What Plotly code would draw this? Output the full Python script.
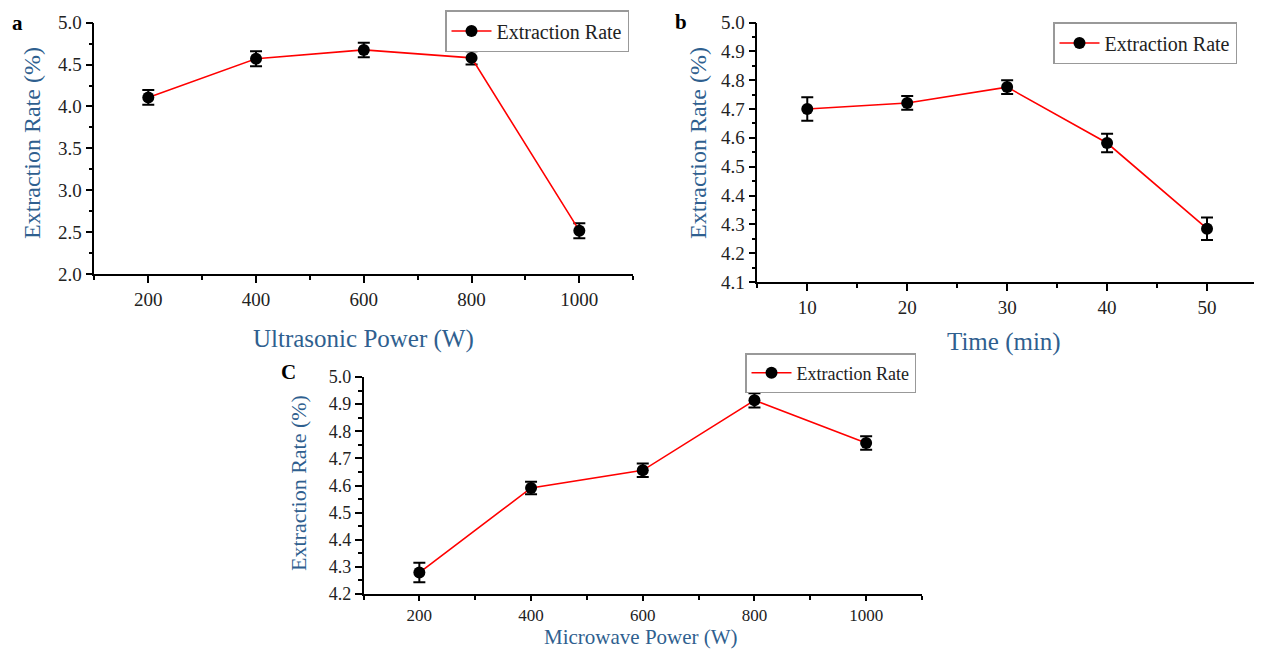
import plotly.graph_objects as go

# Panel a: ultrasonic power
power_a = [200, 400, 600, 800, 1000]
rate_a = [4.108, 4.57, 4.675, 4.58, 2.517]
err_a = [0.088, 0.09, 0.087, 0.08, 0.09]

# Panel b: time
time_b = [10, 20, 30, 40, 50]
rate_b = [4.70, 4.721, 4.776, 4.582, 4.285]
err_b = [0.041, 0.024, 0.024, 0.032, 0.039]

# Panel c: microwave power
power_c = [200, 400, 600, 800, 1000]
rate_c = [4.279, 4.591, 4.656, 4.914, 4.757]
err_c = [0.036, 0.023, 0.025, 0.026, 0.025]

series_name = "Extraction Rate"
ytitle = "Extraction Rate (%)"
xtitle_a = "Ultrasonic Power (W)"
xtitle_b = "Time (min)"
xtitle_c = "Microwave Power (W)"

FONT = "Liberation Serif"
TITLE_COLOR = "#2F5F8F"

fig = go.Figure()

def add(x, y, e, xa, ya, leg):
    fig.add_trace(go.Scatter(
        x=x, y=y, name=series_name, mode="lines+markers",
        line=dict(color="#FF0000", width=1.6),
        marker=dict(color="black", size=12),
        error_y=dict(type="data", array=e, color="black", thickness=2, width=6),
        xaxis=xa, yaxis=ya, legend=leg, showlegend=True,
    ))

add(power_a, rate_a, err_a, "x", "y", "legend")
add(time_b, rate_b, err_b, "x2", "y2", "legend2")
add(power_c, rate_c, err_c, "x3", "y3", "legend3")

# page body has an 8px margin: the figure is drawn 8px in from the window edge
OFF = 8
W, H = 1262 - 2 * OFF, 658 - 2 * OFF
def px(X):
    return min(1.0, max(0.0, (X - OFF) / W))
def py(Y):
    return min(1.0, max(0.0, 1 - (Y - OFF) / H))
def dx(a, b):
    return [px(a), px(b)]
def dy(top, bottom):
    return [py(bottom), py(top)]

def axis_common(fs, tl):
    return dict(
        showline=True, linecolor="black", linewidth=1.5, mirror=False,
        ticks="outside", ticklen=tl, tickwidth=1.5, tickcolor="black",
        showgrid=False, zeroline=False, automargin=False,
        tickfont=dict(family=FONT, size=fs, color="#222"),
    )

def xax(domain, rng, dtick, tick0, minor, anchor, fs, tl=7):
    d = axis_common(fs, tl)
    d.update(domain=domain, range=rng, dtick=dtick, tick0=tick0, anchor=anchor,
             minor=dict(dtick=minor, tick0=tick0, ticks="outside", ticklen=4, tickwidth=1.5, tickcolor="black"))
    return d

def yax(domain, rng, dtick, minor, anchor, fs, tl=7):
    d = axis_common(fs, tl)
    d.update(domain=domain, range=rng, dtick=dtick, tick0=rng[0], anchor=anchor, tickformat=".1f",
             minor=dict(dtick=minor, tick0=rng[0], ticks="outside", ticklen=4, tickwidth=1.5, tickcolor="black"))
    return d

def legend_at(right, top, fs):
    return dict(x=px(right), y=py(top), xanchor="right", yanchor="top",
                bordercolor="#999", borderwidth=1.5, bgcolor="white",
                font=dict(family=FONT, size=fs, color="#222"), itemwidth=40,
                tracegroupgap=0)

fig.update_layout(
    width=W, height=H, margin=dict(l=0, r=0, t=0, b=0, autoexpand=False),
    paper_bgcolor="white", plot_bgcolor="white",
    xaxis=xax(dx(94.4, 633.2), [100, 1100], 200, 200, 100, "y", 19),
    yaxis=yax(dy(22.7, 274), [2.0, 5.0], 0.5, 0.25, "x", 19),
    # panel b axis reaches the right edge of the visible figure
    xaxis2=xax(dx(757.3, 1254), [5, 54.7], 10, 10, 5, "y2", 19),
    yaxis2=yax(dy(22.5, 282), [4.1, 5.0], 0.1, 0.05, "x2", 19),
    xaxis3=xax(dx(363.5, 922), [100, 1100], 200, 200, 100, "y3", 17, tl=5),
    yaxis3=yax(dy(377, 594), [4.2, 5.0], 0.1, 0.05, "x3", 18),
    legend=legend_at(629, 10, 20),
    legend2=legend_at(1237, 22, 20),
    legend3=legend_at(916, 353, 18),
    showlegend=True,
)

def label(text, X, Y, size, color, angle=0, bold=False):
    fig.add_annotation(text=("<b>%s</b>" % text) if bold else text,
                       x=px(X), y=py(Y), xref="paper", yref="paper",
                       showarrow=False, xanchor="center", yanchor="middle", textangle=angle,
                       font=dict(family=FONT, size=size, color=color))

# axis titles
label(xtitle_a, 363, 339, 25, TITLE_COLOR)
label(xtitle_b, 1004, 342, 25, TITLE_COLOR)
label(xtitle_c, 641, 637, 21, TITLE_COLOR)
label(ytitle, 32, 143, 24, TITLE_COLOR, angle=-90)
label(ytitle, 698, 143, 24, TITLE_COLOR, angle=-90)
label(ytitle, 298, 483, 22, TITLE_COLOR, angle=-90)

# panel letters
label("a", 17, 23, 21, "black", bold=True)
label("b", 681, 22, 21, "black", bold=True)
label("C", 288, 372, 21, "black", bold=True)

fig.write_html("out.html")
